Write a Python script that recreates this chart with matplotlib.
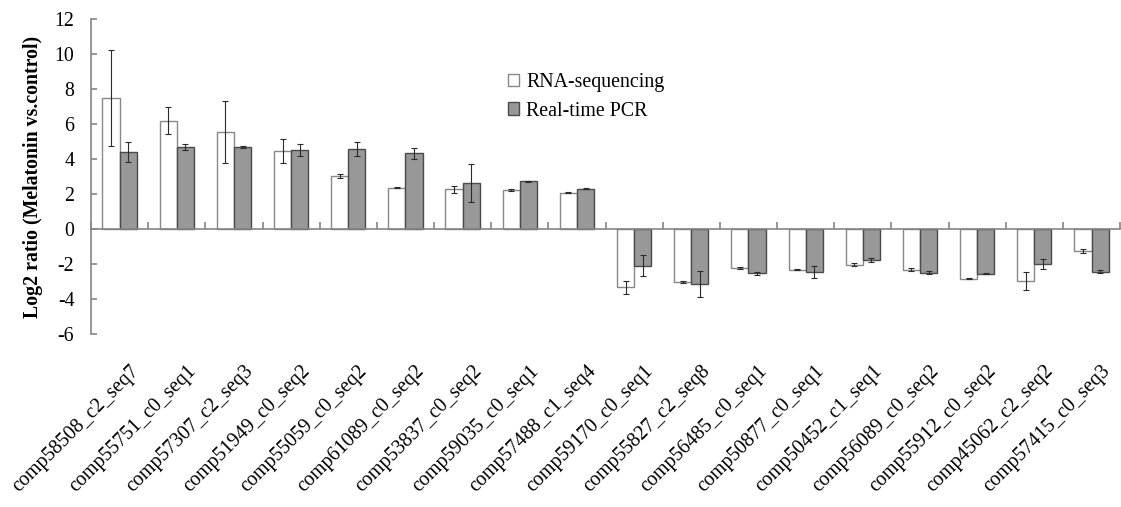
import numpy as np
import matplotlib
matplotlib.use("Agg")
import matplotlib.pyplot as plt
from matplotlib.transforms import ScaledTranslation

plt.rcParams['font.family'] = ['Liberation Serif', 'DejaVu Serif']
plt.rcParams['axes.unicode_minus'] = False

# Gene ids and log2 ratios
genes = ['comp58508_c2_seq7', 'comp55751_c0_seq1', 'comp57307_c2_seq3', 'comp51949_c0_seq2',
         'comp55059_c0_seq2', 'comp61089_c0_seq2', 'comp53837_c0_seq2', 'comp59035_c0_seq1',
         'comp57488_c1_seq4', 'comp59170_c0_seq1', 'comp55827_c2_seq8', 'comp56485_c0_seq1',
         'comp50877_c0_seq1', 'comp50452_c1_seq1', 'comp56089_c0_seq2', 'comp55912_c0_seq2',
         'comp45062_c2_seq2', 'comp57415_c0_seq3']
rna_seq = [7.52, 6.2, 5.57, 4.46, 3.05, 2.37, 2.27, 2.23, 2.08,
           -3.32, -3.0, -2.22, -2.33, -2.03, -2.31, -2.83, -2.97, -1.24]
rna_err = [2.75, 0.78, 1.78, 0.7, 0.1, 0.03, 0.2, 0.07, 0.04,
           0.38, 0.05, 0.03, 0.03, 0.1, 0.08, 0.02, 0.5, 0.12]
pcr = [4.43, 4.71, 4.71, 4.54, 4.58, 4.33, 2.63, 2.73, 2.31,
       -2.1, -3.12, -2.53, -2.43, -1.74, -2.48, -2.54, -1.99, -2.44]
pcr_err = [0.57, 0.17, 0.05, 0.33, 0.4, 0.3, 1.1, 0.03, 0.03,
           0.6, 0.75, 0.08, 0.35, 0.12, 0.08, 0.02, 0.3, 0.08]

x = np.arange(len(genes))
w = 0.3
axis_grey = '#858585'

fig = plt.figure(figsize=(11.21, 5.07), dpi=100)
ax = fig.add_axes([0.0812, 0.341, 0.918, 0.621])

err_style = dict(ecolor='#2a2a2a', elinewidth=0.8, capsize=2, capthick=0.8)
ax.bar(x - w / 2, rna_seq, w, yerr=rna_err, color='white', edgecolor='#888888',
       linewidth=1.0, error_kw=err_style, label='RNA-sequencing', zorder=2)
ax.bar(x + w / 2, pcr, w, yerr=pcr_err, color='#989898', edgecolor='#4a4a4a',
       linewidth=1.0, error_kw=err_style, label='Real-time PCR', zorder=2)

ax.set_xlim(-0.5, len(genes) - 0.5)
ax.set_ylim(-6, 12)
ax.set_yticks(np.arange(-6, 13, 2))

for s in ['top', 'right']:
    ax.spines[s].set_visible(False)
ax.spines['bottom'].set_position(('data', 0))
for s in ['bottom', 'left']:
    ax.spines[s].set_color(axis_grey)
    ax.spines[s].set_linewidth(1.2)

# category boundary ticks on the zero line
ax.set_xticks(x)
ax.set_xticks(np.arange(len(genes) + 1) - 0.5, minor=True)
ax.tick_params(axis='x', which='major', length=0, labelbottom=False)
ax.tick_params(axis='x', which='minor', direction='in', length=5, width=1.2, color=axis_grey)
ax.tick_params(axis='y', direction='in', length=4.5, width=1.2, color=axis_grey,
               labelsize=14.3, pad=12)

# gene labels at the bottom of the plot
sec = ax.secondary_xaxis('bottom')
sec.spines['bottom'].set_visible(False)
sec.set_xticks(x, labels=genes)
sec.tick_params(axis='x', length=0, pad=20, labelsize=14.5)
shift = ScaledTranslation(23 / 100, 0, fig.dpi_scale_trans)
for lab in sec.get_xticklabels():
    lab.set_rotation(45)
    lab.set_ha('right')
    lab.set_va('top')
    lab.set_transform(lab.get_transform() + shift)

ax.set_ylabel('Log2 ratio (Melatonin vs.control)', fontsize=14.3, fontweight='bold')
ax.yaxis.set_label_coords(-0.047, 0.5)

ax.legend(loc='upper left', bbox_to_anchor=(0.397, 0.855), frameon=False, fontsize=14.3,
          handlelength=0.6, handleheight=0.6, handletextpad=0.35, labelspacing=0.5,
          borderaxespad=0)

fig.savefig('out.png', dpi=100)
